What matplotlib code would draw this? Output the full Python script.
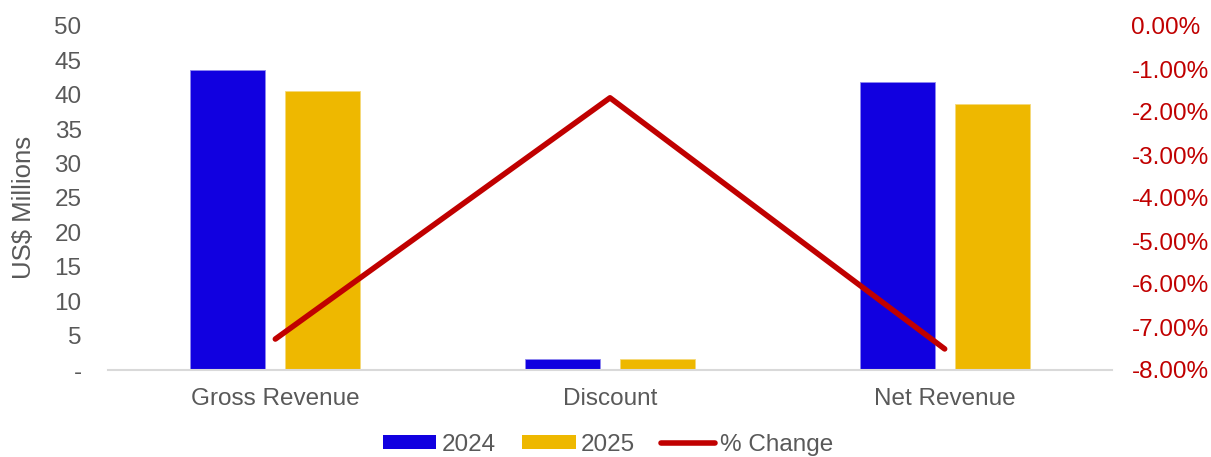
import matplotlib
matplotlib.use("Agg")
import matplotlib.pyplot as plt
from matplotlib.ticker import FuncFormatter, MultipleLocator
from matplotlib.patches import Patch
from matplotlib.lines import Line2D

categories = ["Gross Revenue", "Discount", "Net Revenue"]
values_2024 = [43.65, 1.67, 41.8]
values_2025 = [40.55, 1.67, 38.66]
pct_change = [-7.28, -1.67, -7.51]

blue = "#1100E0"
gold = "#EEB800"
red = "#C00000"
grey = "#595959"

plt.rcParams["font.family"] = ["Liberation Sans", "DejaVu Sans"]

fig = plt.figure(figsize=(12.11, 4.57), dpi=100)
ax = fig.add_axes([108 / 1211, 1 - 370 / 457, (1112 - 108) / 1211, (370 - 26) / 457])

x = list(range(len(categories)))
off = 0.142
w = 0.224
ax.bar([i - off for i in x], values_2024, width=w, color=blue, edgecolor="#8f88f0", linewidth=0.6, zorder=2)
ax.bar([i + off for i in x], values_2025, width=w, color=gold, edgecolor="#f5d97a", linewidth=0.6, zorder=2)

ax.set_xlim(-0.5, 2.5)
ax.set_ylim(0, 50)
ax.yaxis.set_major_locator(MultipleLocator(5))
ax.yaxis.set_major_formatter(FuncFormatter(lambda v, p: "-" if v == 0 else f"{v:.0f}"))
ax.set_xticks(x)
ax.set_xticklabels(categories)
ax.tick_params(axis="both", length=0, labelsize=17.5, labelcolor=grey)
ax.tick_params(axis="y", pad=19)
ax.tick_params(axis="x", pad=13)
for s in ["top", "right", "left"]:
    ax.spines[s].set_visible(False)
ax.spines["bottom"].set_color("#D9D9D9")
ax.spines["bottom"].set_linewidth(1.5)
ax.set_ylabel("US$ Millions", fontsize=18.5, color=grey)
ax.yaxis.set_label_coords(-0.0717, 0.474)

ax2 = ax.twinx()
ax2.plot(x, pct_change, color=red, linewidth=4, solid_capstyle="round", zorder=3)
ax2.set_ylim(-8, 0)
ax2.yaxis.set_major_locator(MultipleLocator(1))
ax2.yaxis.set_major_formatter(FuncFormatter(lambda v, p: f"{v:.2f}%"))
ax2.tick_params(axis="y", length=0, labelsize=17.5, labelcolor=red, pad=14)
for s in ["top", "right", "left", "bottom"]:
    ax2.spines[s].set_visible(False)

handles = [
    Patch(facecolor=blue, label="2024"),
    Patch(facecolor=gold, label="2025"),
    Line2D([0], [0], color=red, linewidth=4, solid_capstyle="round", label="% Change"),
]
fig.legend(handles=handles, loc="center", bbox_to_anchor=(0.502, 0.027), ncol=3, frameon=False,
           fontsize=17.5, labelcolor=grey, handlelength=2.2, handleheight=0.5, handletextpad=0.2,
           columnspacing=1.1)

fig.savefig("out.png", dpi=100)
